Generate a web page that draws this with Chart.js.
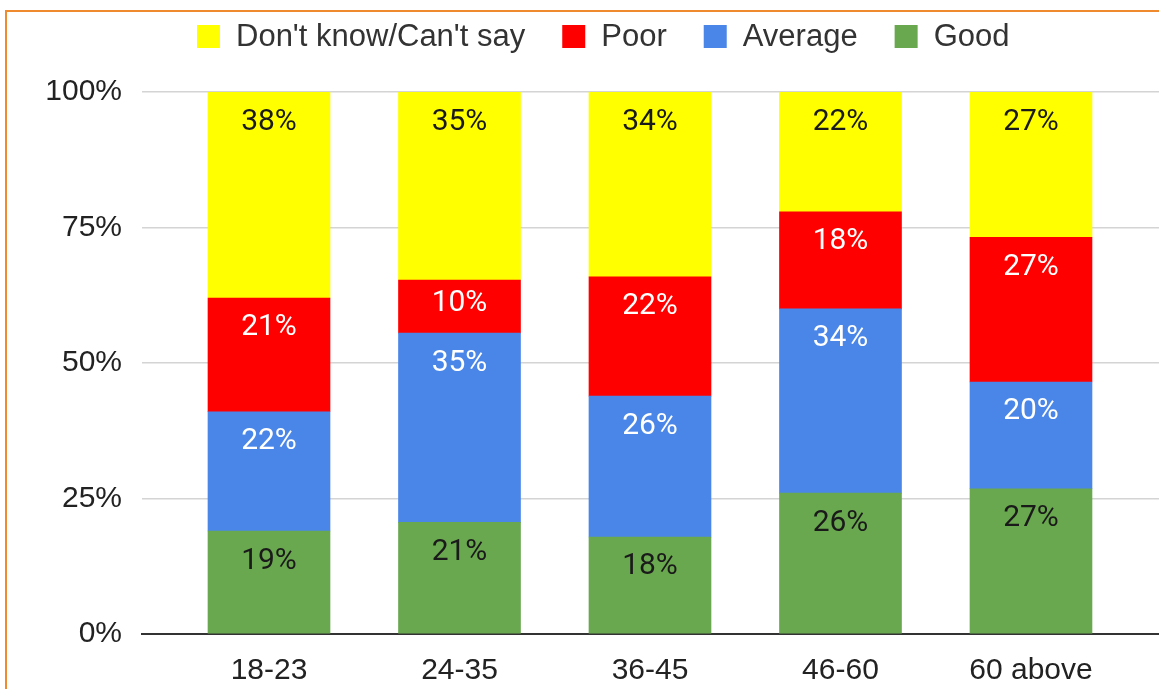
<!DOCTYPE html>
<html>
<head>
<meta charset="utf-8">
<script src="https://cdn.jsdelivr.net/npm/chart.js@4"></script>
<style>
  body { margin: 0; background: #fff; }
  #frame { position: absolute; left: 5px; top: 10px; width: 2000px; height: 2000px;
           border-top: 2px solid #ef8a2e; border-left: 2px solid #ef8a2e; pointer-events: none; }
  canvas { position: absolute; left: 0; top: 0; }
</style>
</head>
<body>
<canvas id="chart" width="1159" height="689"></canvas>
<div id="frame"></div>
<script>
let categories = ['18-23', '24-35', '36-45', '46-60', '60 above'];
let good = [19.0, 20.6, 17.9, 26.0, 26.8];
let average = [22.0, 34.9, 26.0, 34.0, 19.7];
let poor = [21.0, 9.8, 22.0, 17.9, 26.7];
let dontKnow = [38.0, 34.7, 34.1, 22.1, 26.8];
let yTicks = [0, 25, 50, 75, 100];

const axisFont = '"Liberation Sans", Arial, sans-serif';

function points(arr) {
    return arr.map((v, i) => ({ x: i, y: v }));
}

let data = {
    datasets: [
        { label: 'Good', data: points(good), backgroundColor: '#6aa84f', labelColor: '#1a1a1a' },
        { label: 'Average', data: points(average), backgroundColor: '#4a86e8', labelColor: '#ffffff' },
        { label: 'Poor', data: points(poor), backgroundColor: '#ff0000', labelColor: '#ffffff' },
        { label: "Don't know/Can't say", data: points(dontKnow), backgroundColor: '#ffff00', labelColor: '#1a1a1a' },
    ]
};

// percentage labels near the top of each segment
let segmentLabels = {
    id: 'segmentLabels',
    afterDatasetsDraw(chart) {
        let ctx = chart.ctx;
        ctx.save();
        ctx.font = '30px Roboto, sans-serif';
        ctx.textAlign = 'center';
        ctx.textBaseline = 'middle';
        chart.data.datasets.forEach((ds, di) => {
            chart.getDatasetMeta(di).data.forEach((bar, i) => {
                let top = Math.min(bar.y, bar.base);
                let h = Math.abs(bar.base - bar.y);
                ctx.fillStyle = ds.labelColor;
                ctx.fillText(Math.round(ds.data[i].y) + '%', bar.x, top + Math.min(30, h / 2 - 3));
            });
        });
        ctx.restore();
    }
};

// legend on top, reverse of stack order
let topLegend = {
    id: 'topLegend',
    afterDraw(chart) {
        let ctx = chart.ctx;
        ctx.save();
        ctx.font = '31px ' + axisFont;
        ctx.textBaseline = 'middle';
        let x = 197;
        chart.data.datasets.slice().reverse().forEach(ds => {
            ctx.fillStyle = ds.backgroundColor;
            ctx.fillRect(x, 25, 23, 23);
            x += 23 + 16;
            ctx.fillStyle = '#333';
            ctx.fillText(ds.label, x, 37);
            x += ctx.measureText(ds.label).width + 37;
        });
        ctx.restore();
    }
};

let config = {
    type: 'bar',
    data: data,
    options: {
        responsive: false,
        animation: false,
        layout: { padding: { top: 92, left: 0, right: 0, bottom: 0 } },
        datasets: { bar: { barThickness: 122 } },
        plugins: { legend: { display: false }, tooltip: { enabled: false } },
        scales: {
            x: {
                type: 'linear',
                stacked: true,
                offset: false,
                min: -2 / 3,
                max: 4.672,
                grid: { display: false, offset: false },
                border: { display: true, color: '#333', width: 2 },
                afterBuildTicks: scale => { scale.ticks = categories.map((c, i) => ({ value: i })); },
                afterFit: scale => { scale.height = 55; },
                ticks: {
                    padding: 11,
                    color: '#222',
                    font: { family: axisFont, size: 30 },
                    callback: v => categories[v],
                    maxRotation: 0,
                    autoSkip: false
                }
            },
            y: {
                stacked: true,
                min: 0,
                max: 100,
                grid: { color: '#d4d4d4', lineWidth: 1.5, drawTicks: false },
                border: { display: false },
                afterBuildTicks: scale => { scale.ticks = yTicks.map(v => ({ value: v })); },
                afterFit: scale => { scale.width = 142; },
                ticks: {
                    padding: 20,
                    color: '#222',
                    font: { family: axisFont, size: 30 },
                    callback: v => v + '%'
                }
            }
        }
    },
    plugins: [segmentLabels, topLegend]
};

new Chart(document.getElementById('chart'), config);
</script>
</body>
</html>
